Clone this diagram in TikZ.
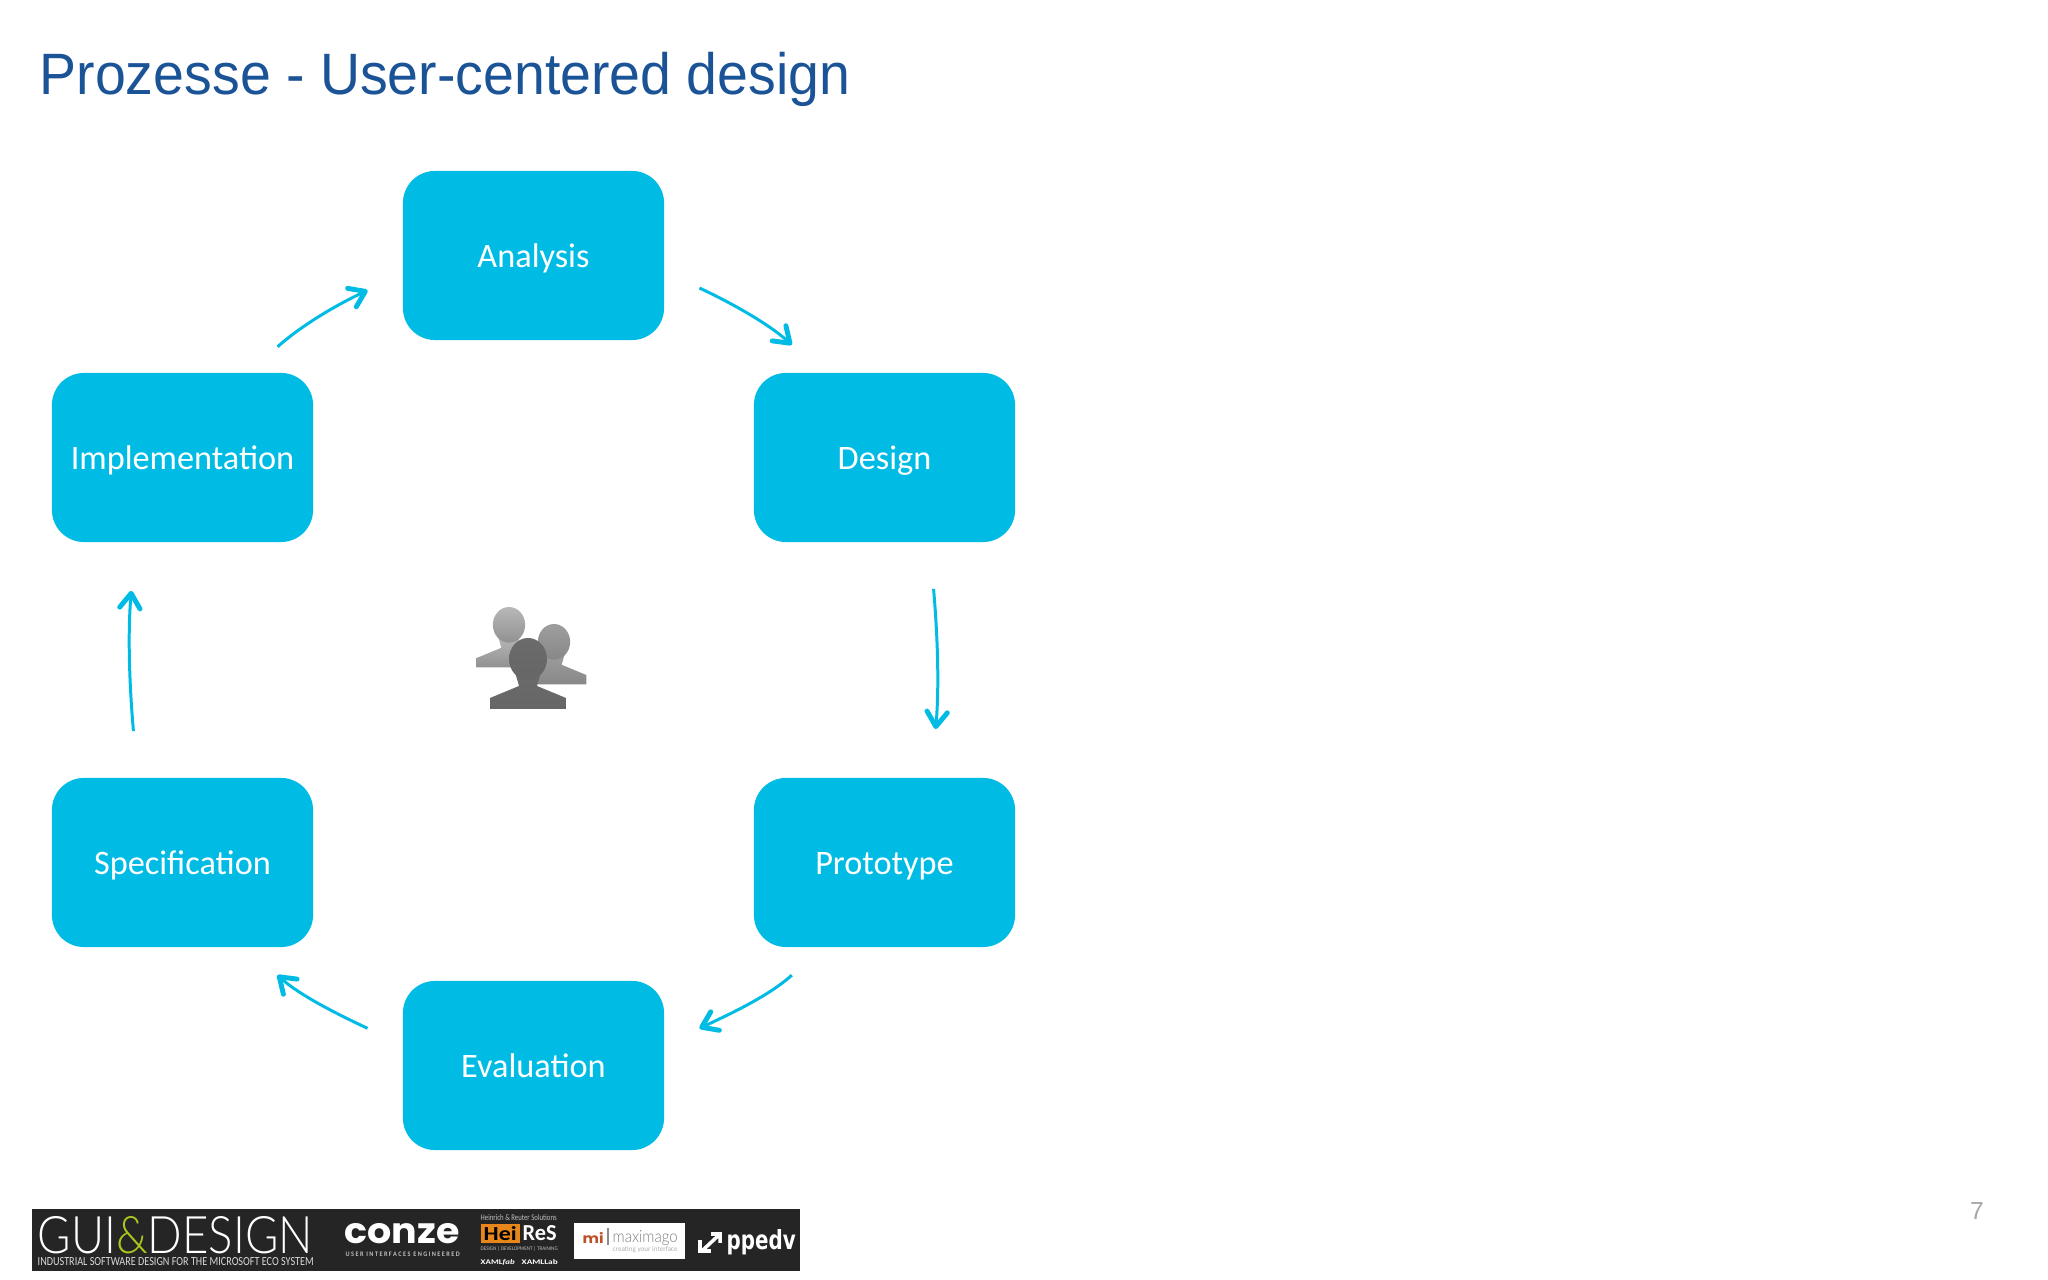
\documentclass[tikz,border=0pt]{standalone}
\usepackage{fontspec}
\usepackage{graphicx}
\setmainfont{Carlito}
\newfontfamily\titlefont{Liberation Sans}
\newfontfamily\thinfont{Lato Light}
\newfontfamily\logofont{Poppins}
\newfontfamily\heavyfont{DejaVu Sans}
\usetikzlibrary{arrows.meta}
\definecolor{boxblue}{HTML}{00BCE4}
\definecolor{titleblue}{HTML}{1B5397}
\definecolor{barblack}{HTML}{252525}
\newcommand{\fitlogo}[3]{\resizebox{#1cm}{#2cm}{#3}}
\tikzset{
  >={Straight Barb[length=4.2pt,width=5.8pt,line width=1.4pt,round]},
  stagebox/.style={fill=boxblue, rounded corners=0.32cm, minimum width=2.61cm, minimum height=1.69cm,
    outer sep=0, inner sep=0, text=white, text height=0.24cm, text depth=0cm, font=\fontsize{9.75}{12}\selectfont},
  flow/.style={->, draw=boxblue, line width=0.85pt},
  logotext/.style={inner sep=0, text=white},
  person/.pic={
    \path[pic actions] (-38,51) -- (-38,40) -- (-9,28) -- (-13,14) -- (13,14) -- (9,28) -- (38,40) -- (38,51) -- cycle;
    \path[pic actions] (0,1) ellipse [x radius=19, y radius=21];
  }
}
\begin{document}
\begin{tikzpicture}[x=0.01cm, y=-0.01cm]
  \useasboundingbox (0,0) rectangle (2048,1280);
  \node[anchor=base west, inner sep=0, text=titleblue, font=\titlefont\fontsize{16.6}{20}\selectfont] (title) at (39,95) {\scalebox{0.95}[1]{Prozesse - User-centered design}};

  \node[stagebox] (analysis) at (533.5,255.5) {Analysis};
  \node[stagebox] (design) at (884.5,457.5) {Design};
  \node[stagebox] (prototype) at (884.5,862.5) {Prototype};
  \node[stagebox] (evaluation) at (533.5,1065.5) {Evaluation};
  \node[stagebox] (specification) at (182.5,862.5) {Specification};
  \node[stagebox] (implementation) at (182.5,457.5) {Implementation};

  \draw[flow, shorten <=0.39cm, shorten >=0.42cm] (analysis.-7) to [out=-25, in=138] (design.126.5);
  \draw[flow, shorten <=0.47cm, shorten >=0.49cm] (design.-62) to [out=-85, in=85] (prototype.61);
  \draw[flow, shorten <=0.42cm, shorten >=0.39cm] (prototype.-126.5) to [out=-138, in=25] (evaluation.9);
  \draw[flow, shorten <=0.39cm, shorten >=0.42cm] (evaluation.171) to [out=155, in=-42] (specification.-53.5);
  \draw[flow, shorten <=0.47cm, shorten >=0.49cm] (specification.118) to [out=95, in=-95] (implementation.-119);
  \draw[flow, shorten <=0.39cm, shorten >=0.39cm] (implementation.52.5) to [out=42, in=205] (analysis.188);

  % people in the middle
  \pic[top color=black!28, bottom color=black!43, scale=0.85] at (509,624) {person};
  \pic[top color=black!38, bottom color=black!47, scale=0.85] at (554,641) {person};
  \pic[top color=black!58, bottom color=black!60] at (528,658) {person};

  % logo bar
  \fill[barblack] (32,1209) rectangle (800,1271);
  \node[logotext, anchor=west] (gui) at (37,1235.5) {\fitlogo{2.75}{0.37}{\thinfont GUI\textcolor[HTML]{A9C81E}{\&}DESIGN}};
  \node[logotext, anchor=west, text=black!15] (guisub) at (37,1262) {\fitlogo{2.76}{0.08}{INDUSTRIAL SOFTWARE DESIGN FOR THE MICROSOFT ECO SYSTEM}};
  \node[logotext, anchor=west] (conze) at (344,1234) {\fitlogo{1.15}{0.2}{\logofont\bfseries conze}};
  \node[logotext, anchor=west, text=black!25] (conzesub) at (345,1254) {\fitlogo{1.14}{0.045}{\bfseries U S E R\ \ I N T E R F A C E S\ \ E N G I N E E R E D}};
  \node[logotext, anchor=west, text=black!25] (heinrich) at (480,1218) {\fitlogo{0.76}{0.06}{Heinrich \& Reuter Solutions}};
  \node[fill={rgb,255:red,232;green,134;blue,26}, minimum width=0.39cm, minimum height=0.19cm, inner sep=0, anchor=west] (hei) at (480,1233.5) {\fitlogo{0.33}{0.14}{\color{black}\bfseries Hei}};
  \node[logotext, anchor=west] (res) at (522,1233.5) {\fitlogo{0.34}{0.15}{\bfseries ReS}};
  \node[logotext, anchor=west, text=black!25] (heisub) at (480,1249) {\fitlogo{0.77}{0.04}{DESIGN | DEVELOPMENT | TRAINING}};
  \node[logotext, anchor=west] (xamlfab) at (480,1262) {\fitlogo{0.34}{0.05}{\bfseries XAML\textit{fab}}};
  \node[logotext, anchor=west] (xamllab) at (521,1262) {\fitlogo{0.36}{0.05}{\bfseries XAMLLab}};
  \node[fill=white, minimum width=1.11cm, minimum height=0.36cm, inner sep=0, anchor=north west] (maximago) at (573,1222) {};
  \node[logotext, anchor=west, text={rgb,255:red,190;green,80;blue,40}] (mi) at (582,1238) {\fitlogo{0.21}{0.11}{\logofont\bfseries mi}};
  \draw[black!45, line width=0.3pt] (608,1228) -- (608,1245);
  \node[logotext, anchor=west, text=black!50] (maxname) at (612,1238) {\fitlogo{0.65}{0.12}{\thinfont maximago}};
  \node[logotext, anchor=west, text=black!30] (maxsub) at (612,1250) {\fitlogo{0.65}{0.05}{creating your interface}};
  \node[logotext, anchor=west] (ppedv) at (726,1242) {\fitlogo{0.69}{0.2}{\heavyfont\bfseries ppedv}};
  \draw[white, line width=1pt] (711,1234) -- (720,1234) -- (720,1243) (720,1234) -- (703,1250);
  \draw[white, line width=1pt] (700,1240) -- (700,1251) -- (711,1251);

  \node[text=black!35, inner sep=0, font=\titlefont\fontsize{7}{8}\selectfont] (pagenum) at (1977,1211) {7};
\end{tikzpicture}
\end{document}
